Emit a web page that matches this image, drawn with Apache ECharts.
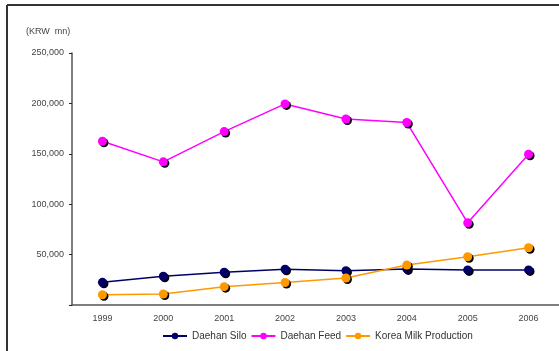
<!DOCTYPE html>
<html>
<head>
<meta charset="utf-8">
<script src="https://cdn.jsdelivr.net/npm/echarts@6/dist/echarts.min.js"></script>
<style>
  html, body { margin: 0; padding: 0; background: #fff; }
  #chart { width: 559px; height: 351px; }
</style>
</head>
<body>
<div id="chart"></div>
<script>
// years on the x axis
const years = ['1999', '2000', '2001', '2002', '2003', '2004', '2005', '2006'];

// values in KRW mn
const daehan_silo = [22500, 28500, 32500, 35500, 34000, 35800, 34800, 34800];
const daehan_feed = [162500, 142000, 172000, 199500, 184500, 181000, 81500, 149500];
const korea_milk = [10200, 10900, 18200, 22300, 26800, 39700, 47900, 56800];

const y_ticks = [0, 50000, 100000, 150000, 200000, 250000];

var myChart = echarts.init(document.getElementById('chart'));

function linea(name, data, color) {
    return {
        name: name,
        type: 'line',
        data: data,
        symbol: 'circle',
        symbolSize: 9,
        lineStyle: { color: color, width: 1.5 },
        itemStyle: {
            color: color,
            shadowColor: '#000',
            shadowBlur: 0,
            shadowOffsetX: 1.5,
            shadowOffsetY: 1.5
        },
        emphasis: { disabled: true }
    };
}

var option = {
    animation: false,
    textStyle: { fontFamily: 'Liberation Sans, Arial, sans-serif' },
    grid: { left: 72, top: 53, right: 0, bottom: 46 },
    graphic: [
        // outer frame, only left and top are visible in the original
        { type: 'line', shape: { x1: 7, y1: 5, x2: 559, y2: 5 }, style: { stroke: '#333', lineWidth: 2 } },
        { type: 'line', shape: { x1: 7, y1: 5, x2: 7, y2: 351 }, style: { stroke: '#333', lineWidth: 2 } },
        { type: 'text', left: 26, top: 27, style: { text: '(KRW  mn)', fontSize: 9, fill: '#444', fontFamily: 'Liberation Sans, Arial, sans-serif' } }
    ],
    legend: {
        bottom: 5,
        left: 157,
        itemWidth: 24,
        itemHeight: 8,
        itemGap: 4,
        textStyle: { fontSize: 10, color: '#333' },
        data: ['Daehan Silo', 'Daehan Feed', 'Korea Milk Production']
    },
    xAxis: {
        type: 'category',
        boundaryGap: true,
        data: years,
        axisLine: { lineStyle: { color: '#555', width: 1.5 } },
        axisTick: { inside: true, length: 3, lineStyle: { color: '#222' } },
        axisLabel: { fontSize: 9, color: '#444', margin: 9 }
    },
    yAxis: {
        type: 'value',
        min: y_ticks[0],
        max: y_ticks[y_ticks.length - 1],
        interval: 50000,
        splitLine: { show: false },
        axisLine: { show: true, lineStyle: { color: '#555', width: 1.5 } },
        axisTick: { show: true, length: 3, lineStyle: { color: '#222' } },
        axisLabel: {
            fontSize: 9,
            color: '#444',
            margin: 8,
            formatter: function (v) {
                if (v === 0) return '';
                return v.toLocaleString('en-US');
            }
        }
    },
    series: [
        linea('Daehan Silo', daehan_silo, '#000066'),
        linea('Daehan Feed', daehan_feed, '#ff00ff'),
        linea('Korea Milk Production', korea_milk, '#ff9900')
    ]
};

myChart.setOption(option);
</script>
</body>
</html>
